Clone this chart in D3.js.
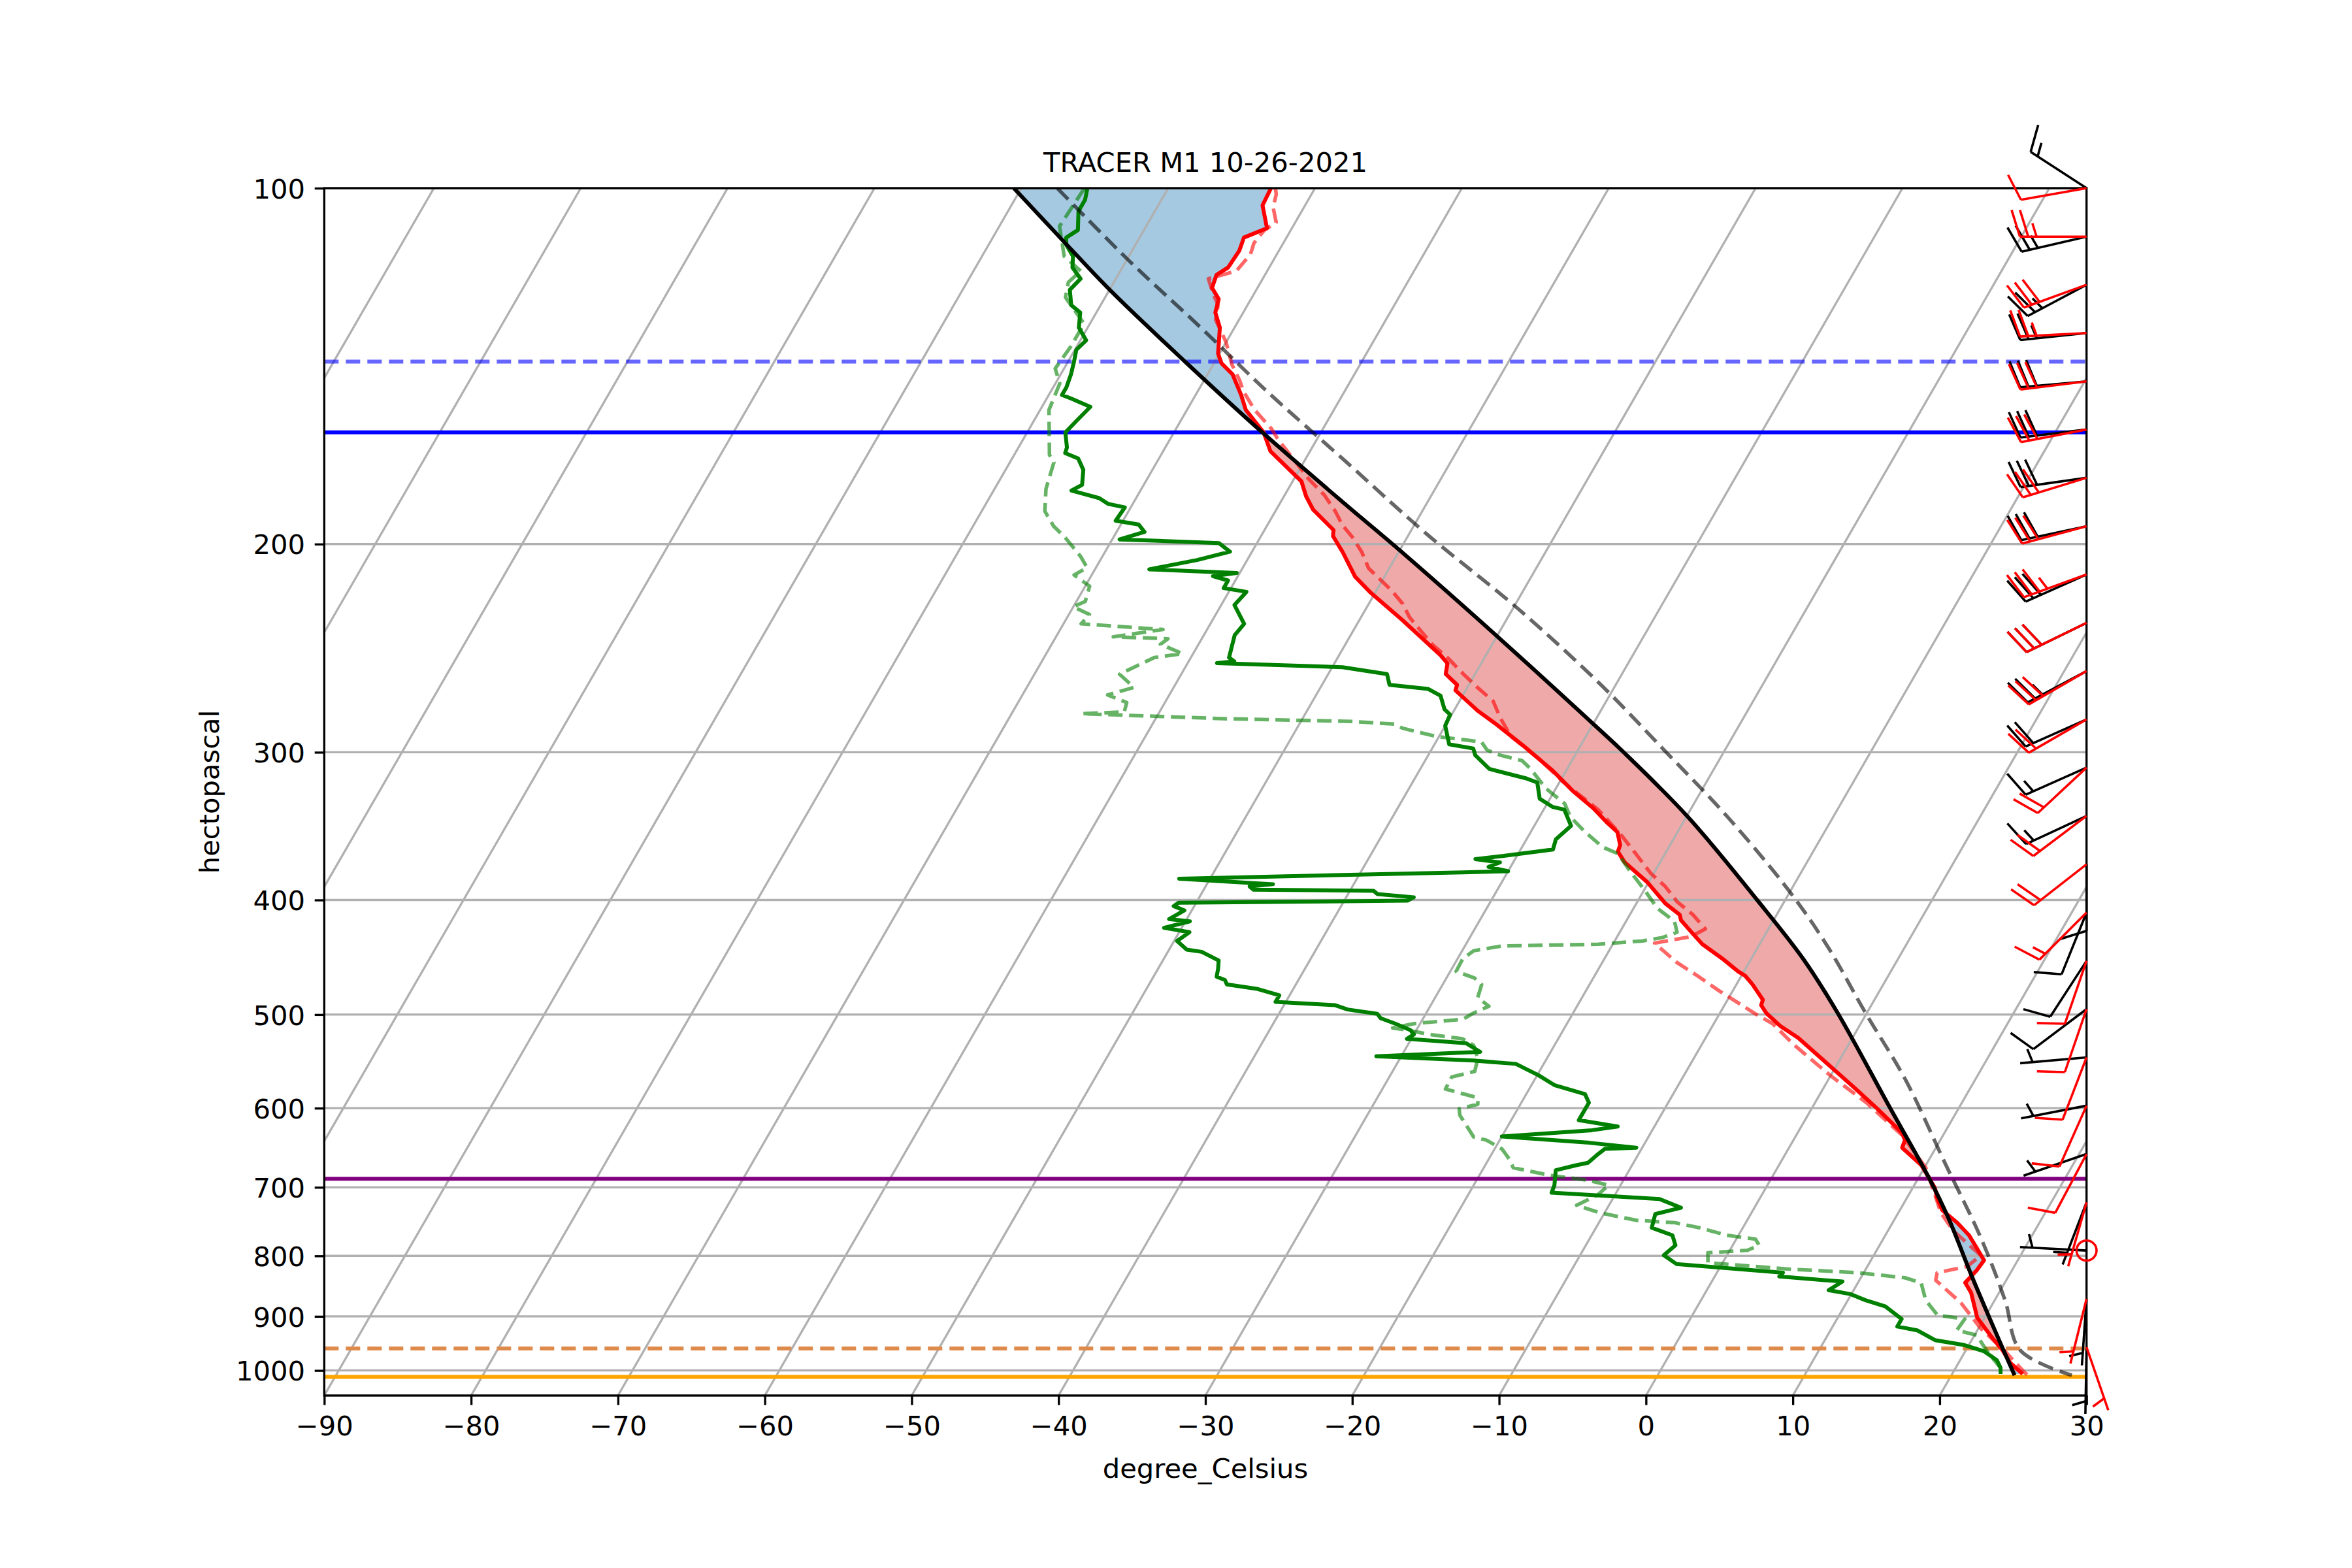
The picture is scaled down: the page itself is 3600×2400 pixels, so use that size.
<!DOCTYPE html>
<html><head><meta charset="utf-8">
<script src="https://cdn.jsdelivr.net/npm/d3@7"></script>
<style>html,body{margin:0;padding:0;background:#fff;} svg{display:block;}</style>
</head><body>
<svg id="chart" width="3600" height="2400"></svg>
<script>
// ---------------- DATA ----------------
const chartTitle = "TRACER M1 10-26-2021";
const xLabel = "degree_Celsius";
const yLabel = "hectopascal";
const pressureTicks = [100,200,300,400,500,600,700,800,900,1000];
const temperatureTicks = [-90,-80,-70,-60,-50,-40,-30,-20,-10,0,10,20,30];

// Sounding 1 temperature [hPa, degC]
const temperature = [[100,-73.0],[103.4,-72.9],[108.1,-71.7],[110.1,-72.9],[112.9,-72.7],[116.7,-72.8],[118.4,-73.3],[121.4,-73.1],[124.1,-72.2],[127.4,-71.9],[131.2,-71.0],[138.0,-70.1],[140.6,-69.5],[143.7,-68.3],[149.6,-66.9],[154.0,-66.0],[160.9,-63.9],[166.9,-62.7],[177.0,-59.4],[182.2,-58.5],[187.0,-57.5],[194.6,-55.3],[196.9,-55.1],[203.2,-53.8],[213.1,-52.0],[219.9,-50.3],[231.8,-47.1],[239.9,-45.1],[248.3,-43.1],[252.3,-42.3],[257.6,-42.0],[263.1,-40.8],[265.9,-40.7],[276.6,-38.4],[284.0,-36.6],[296.2,-33.9],[310.5,-31.0],[323.2,-28.8],[334.4,-26.7],[344.5,-25.1],[350.4,-24.1],[359.4,-23.4],[364.0,-23.3],[371.8,-22.4],[386.3,-20.1],[402.9,-18.0],[411.7,-16.6],[416.1,-16.3],[427.7,-14.9],[436.0,-13.9],[448.2,-12.0],[459.7,-10.4],[463.6,-9.75],[471.6,-8.9],[485.8,-7.6],[491.0,-7.5],[499.0,-6.8],[511.1,-5.4],[523.2,-3.7],[549.3,-0.8],[576.7,2.1],[600.9,4.5],[629.4,7.1],[638.6,7.6],[648.0,7.7],[670.5,9.7],[700.6,11.5],[714.4,12.05],[732.0,12.9],[750.0,14.4],[768.5,15.7],[787.4,16.7],[806.8,17.7],[822.6,17.6],[842.9,17.3],[859.5,18.1],[902.4,19.5],[938.2,21.3],[961.3,22.5],[985.0,23.5],[1006.8,24.8]];

// Sounding 1 dewpoint
const dewpoint = [[100,-85.5],[102.3,-85.2],[104.6,-85.2],[108.5,-84.5],[110.1,-85.0],[111.7,-84.7],[114.2,-83.8],[116.7,-83.4],[119.3,-82.4],[121.9,-82.7],[125.6,-82.0],[127.4,-81.1],[131.2,-80.6],[134.5,-79.6],[137.0,-79.9],[140.1,-79.6],[143.7,-79.3],[147.4,-79.1],[149.6,-79.1],[150.7,-78.3],[153.1,-76.7],[157.4,-77.1],[160.9,-77.4],[165.7,-76.7],[167.5,-76.6],[169.3,-75.5],[173.1,-74.7],[178.2,-74.2],[180.2,-74.7],[182.9,-72.5],[184.9,-71.7],[186.2,-70.4],[191.1,-70.5],[192.5,-68.8],[195.3,-68.1],[198.2,-69.5],[199.6,-62.6],[203.0,-61.5],[206.3,-63.4],[210.1,-66.3],[211.6,-60.2],[212.9,-61.7],[214.7,-60.5],[217.9,-60.5],[219.5,-58.8],[225.2,-59.1],[233.6,-57.7],[238.8,-57.9],[249.5,-57.4],[251.3,-56.9],[252.2,-58.0],[254.2,-49.3],[257.6,-46.0],[263.1,-45.4],[265.2,-42.6],[268.7,-41.5],[275.9,-40.7],[278.8,-40.1],[284.9,-40.0],[295.4,-39.0],[297.8,-37.2],[301.7,-36.8],[309.9,-35.3],[315.7,-32.4],[318.2,-31.5],[328.4,-30.7],[333.7,-29.5],[335.4,-28.6],[346.2,-27.5],[355.5,-28.0],[362.5,-27.8],[367.1,-30.9],[369.4,-32.7],[371.8,-30.9],[375.0,-31.5],[378.2,-30.0],[379.0,-33.0],[383.8,-52.1],[387.9,-45.5],[389.6,-47.0],[392.1,-46.6],[392.9,-38.4],[395.4,-38.0],[397.9,-35.4],[400.5,-35.7],[402.2,-51.2],[404.8,-51.4],[408.2,-50.5],[415.2,-51.2],[417.0,-49.7],[422.3,-51.2],[425.9,-49.3],[433.2,-49.8],[440.6,-48.8],[442.5,-47.7],[450.0,-46.2],[457.7,-45.9],[464.5,-45.7],[467.5,-45.0],[471.5,-44.7],[475.5,-42.5],[481.6,-40.7],[487.8,-40.7],[491.0,-36.5],[495.1,-35.5],[499.3,-33.3],[503.6,-32.9],[508.9,-31.7],[515.4,-30.4],[519.8,-30.0],[524.2,-30.3],[528.7,-26.1],[537.7,-24.8],[542.3,-31.7],[546.9,-24.9],[550.4,-21.9],[562.8,-19.9],[573.9,-18.4],[583.8,-16.0],[593.6,-15.4],[614.2,-15.4],[621.8,-12.5],[626.3,-14.1],[634.0,-20.0],[641.8,-13.8],[648.0,-10.4],[649.6,-12.5],[657.6,-12.8],[667.3,-13.1],[670.5,-13.8],[677.1,-15.0],[697.2,-14.5],[707.4,-14.4],[716.1,-6.8],[728.4,-5.0],[737.4,-6.5],[757.4,-6.2],[768.5,-4.5],[783.6,-3.9],[799.0,-4.3],[812.7,-3.1],[826.7,4.5],[832.8,4.4],[841.0,8.9],[855.3,8.3],[861.6,9.9],[872.1,11.2],[882.8,12.8],[904.6,14.4],[918.0,14.4],[924.8,15.9],[942.6,17.5],[951.8,19.7],[963.5,21.3],[980.1,22.5],[994.7,23.05],[1006.8,23.3]];

// Sounding 2 temperature (dashed)
const temperature2 = [[100,-72.7],[101.2,-72.4],[103.8,-72.1],[106.9,-71.3],[108.5,-71.8],[111.3,-72.0],[113.7,-71.8],[117.5,-72.1],[119.3,-73.7],[122.8,-72.8],[125.6,-72.0],[129.2,-71.6],[135.0,-70.0],[141.1,-68.7],[145.3,-67.6],[148.5,-66.9],[154.0,-65.4],[159.8,-63.5],[163.3,-62.6],[170.6,-60.5],[176.2,-59.0],[181.8,-57.3],[187.7,-55.9],[192.7,-54.9],[197.9,-53.6],[203.2,-52.5],[209.7,-51.4],[214.2,-50.2],[218.8,-49.0],[224.6,-47.7],[230.6,-46.7],[236.8,-45.4],[243.1,-44.1],[249.6,-42.5],[257.6,-40.8],[264.5,-39.3],[271.6,-37.7],[280.3,-36.6],[290.9,-35.1],[303.4,-32.4],[318.2,-29.7],[335.4,-26.3],[351.9,-23.8],[365.5,-22.0],[379.8,-20.2],[389.6,-18.7],[401.3,-17.3],[411.7,-15.7],[423.2,-14.3],[429.6,-15.0],[435.1,-17.2],[451.9,-14.9],[463.6,-13.0],[477.6,-10.9],[489.8,-9.0],[499.0,-7.6],[508.9,-6.0],[530.9,-3.65],[562.8,-0.05],[593.6,3.5],[632.4,7.2],[673.8,10.1],[735.6,12.9],[761.1,14.4],[787.4,16.4],[799.0,17.3],[816.6,16.8],[826.7,15.0],[838.9,15.2],[876.5,17.8],[920.4,20.1],[961.3,22.6],[1004.4,24.9],[1009.0,25.2]];

// Sounding 2 dewpoint (dashed)
const dewpoint2 = [[100,-85.7],[107.7,-85.9],[114.2,-84.4],[117.5,-82.7],[120.1,-83.1],[123.7,-82.7],[130.2,-80.4],[136.0,-80.4],[142.1,-80.6],[146.3,-79.7],[154.0,-79.4],[160.9,-78.5],[168.1,-77.6],[170.6,-77.0],[179.6,-76.5],[187.6,-75.7],[193.2,-74.5],[197.4,-73.3],[204.8,-71.5],[209.4,-70.6],[212.4,-71.2],[217.1,-69.7],[223.6,-69.4],[226.0,-70.0],[229.4,-68.6],[233.6,-68.8],[236.2,-63.0],[239.6,-66.1],[240.5,-62.3],[243.1,-62.6],[247.6,-60.7],[249.5,-62.5],[257.7,-64.2],[264.4,-62.7],[268.3,-64.2],[272.3,-62.6],[277.3,-62.4],[278.3,-65.2],[281.0,-55.4],[282.5,-46.6],[284.0,-43.5],[286.3,-42.8],[290.9,-40.2],[294.0,-36.9],[298.7,-36.2],[301.7,-35.1],[304.9,-33.4],[309.8,-32.5],[321.8,-30.7],[331.6,-28.8],[340.2,-27.9],[350.4,-26.3],[360.9,-24.5],[365.5,-23.2],[378.2,-21.7],[392.9,-19.9],[406.4,-18.4],[417.0,-16.7],[425.9,-16.1],[430.4,-16.9],[433.2,-18.1],[436.0,-21.0],[437.5,-27.5],[441.5,-29.2],[448.2,-29.65],[459.7,-29.6],[465.6,-28.1],[471.5,-27.35],[483.7,-27.1],[492.0,-26.0],[498.3,-26.75],[504.6,-27.25],[508.9,-30.4],[513.3,-31.7],[515.4,-30.6],[519.8,-28.9],[524.2,-26.5],[530.9,-25.5],[544.6,-24.7],[558.6,-24.4],[564.6,-25.75],[578.1,-25.7],[588.0,-23.15],[595.5,-22.9],[600.5,-24.0],[608.2,-23.7],[621.2,-22.8],[634.6,-21.9],[638.6,-20.9],[649.6,-19.5],[664.0,-18.5],[673.8,-18.0],[683.7,-15.25],[690.4,-12.4],[697.2,-10.8],[710.9,-11.2],[724.9,-12.2],[735.6,-10.3],[746.4,-7.55],[750.0,-4.8],[757.4,-2.95],[768.5,-0.8],[774.2,1.3],[783.6,1.8],[791.3,1.2],[795.1,-1.4],[810.7,-1.0],[820.6,4.6],[826.7,9.6],[834.8,13.0],[842.9,14.3],[872.1,15.3],[898.0,16.7],[904.6,18.7],[924.6,18.6],[933.6,20.15],[956.9,21.2],[975.7,22.1],[994.7,23.05],[1006.8,23.4]];

// Parcel profile (solid black) and second parcel profile (dashed grey)
const parcel = [[100,-90.51],[111.2,-84.89],[122.1,-79.89],[140.1,-72.07],[160.5,-64.14],[185.3,-55.44],[201.1,-50.4],[240.5,-39.7],[287.8,-29.2],[299.5,-26.9],[340.2,-19.9],[400.5,-11.85],[448.2,-6.5],[498.3,-2.0],[599.5,5.3],[687.0,10.7],[742.8,13.6],[834.8,17.6],[938.2,21.7],[1009.3,24.3]];
const parcel2 = [[100,-87.55],[115.0,-79.9],[131.2,-72.3],[148.5,-65.3],[170.3,-57.16],[195.8,-48.9],[227.0,-39.6],[263.1,-31.0],[299.5,-24.0],[340.2,-17.2],[394.6,-9.9],[438.8,-5.2],[498.3,-0.1],[568.3,5.3],[667.3,11.2],[772.3,16.6],[872.1,20.7],[961.3,23.7],[1009.3,28.2]];

// Horizontal reference levels [hPa]
const levelPressures = [140.2, 160.9, 688.5, 958.2, 1012.7];

// Wind barbs: pressure levels, direction (deg) and speed (kt)
const windPressure = [100,109.9,120.7,132.6,145.7,160.0,175.8,193.2,212.2,233.2,256.1,281.4,309.1,339.6,373.1,409.9,450.3,494.7,543.5,597.1,656.0,720.7,791.7,869.8,955.6];
const windDir1 = [303,257,242,264,265,263,262,258,246,244,242,246,246,245,180,202,213,233,265,259,251,201,273,184,181];
const windSpd1 = [15,25,25,25,30,30,30,30,30,30,25,20,15,15,10,10,10,10,5,5,5,5,5,5,5];
const windDir2 = [260,270,250,267,263,259,253,255,250,244,240,240,227,233,232,225,199,199,201,204,208,196,0,194,161];
const windSpd2 = [10,25,30,25,30,30,30,30,35,30,30,20,20,20,20,15,10,10,10,10,10,5,0,5,5];

// ---------------- LAYOUT / STYLE ----------------
const FONT = "DejaVu Sans";
const FS = 41.67;
const axL = 496.3, axR = 3193.7, axT = 288, axB = 2136;
const tanSkew = Math.tan(30 * Math.PI / 180);
const levelStyles = [
  {color:"#0000ff", opacity:0.6, dash:"22,11", width:6},
  {color:"#0000ff", opacity:1, dash:null, width:6},
  {color:"#800080", opacity:1, dash:null, width:6},
  {color:"#de8a4b", opacity:1, dash:"22,11", width:6},
  {color:"#ffa500", opacity:1, dash:null, width:6}
];

const svg = d3.select("#chart");
svg.append("rect").attr("width",3600).attr("height",2400).attr("fill","#fff");

const x = d3.scaleLinear().domain([-90,30]).range([axL,axR]);
const y = d3.scaleLog().domain([1050,100]).range([axB,axT]);
const sx = (T,p) => x(T) + (axB - y(p)) * tanSkew;

svg.append("defs").append("clipPath").attr("id","clip")
  .append("rect").attr("x",axL).attr("y",axT).attr("width",axR-axL).attr("height",axB-axT);
const plot = svg.append("g").attr("clip-path","url(#clip)");

// --- CAPE / CIN shading ---
function interpLog(data, p) {
  if (p <= data[0][0]) return data[0][1];
  const n = data.length;
  if (p >= data[n-1][0]) return data[n-1][1];
  let i = d3.bisector(d => d[0]).right(data, p) - 1;
  const a = data[i], b = data[i+1];
  const f = (Math.log(p) - Math.log(a[0])) / (Math.log(b[0]) - Math.log(a[0]));
  return a[1] + f * (b[1] - a[1]);
}
function shadeRegions(env, par) {
  const pmin = Math.max(env[0][0], par[0][0]);
  const pmax = Math.min(env[env.length-1][0], par[par.length-1][0]);
  const levels = Array.from(new Set(env.map(d=>d[0]).concat(par.map(d=>d[0]))))
    .filter(p => p >= pmin && p <= pmax).sort((a,b)=>a-b);
  const rows = levels.map(p => ({p, e: interpLog(env,p), q: interpLog(par,p)}));
  const pos = [], neg = [];
  let cur = [rows[0]];
  let sign = Math.sign(rows[0].q - rows[0].e);
  for (let i = 1; i < rows.length; i++) {
    const r = rows[i];
    const s = Math.sign(r.q - r.e);
    if (s !== 0 && sign !== 0 && s !== sign) {
      const a = rows[i-1];
      const da = a.q - a.e, db = r.q - r.e;
      const f = da / (da - db);
      const pc = Math.exp(Math.log(a.p) + f * (Math.log(r.p) - Math.log(a.p)));
      const tc = a.e + f * (r.e - a.e);
      const c = {p: pc, e: tc, q: tc};
      cur.push(c);
      (sign > 0 ? pos : neg).push(cur);
      cur = [c, r];
      sign = s;
    } else {
      cur.push(r);
      if (sign === 0) sign = s;
    }
  }
  (sign > 0 ? pos : neg).push(cur);
  return {pos, neg};
}
function regionPath(seg) {
  const pts = seg.map(r => [sx(r.q, r.p), y(r.p)])
    .concat(seg.slice().reverse().map(r => [sx(r.e, r.p), y(r.p)]));
  return d3.line()(pts) + "Z";
}
const regions = shadeRegions(temperature, parcel);
plot.selectAll("path.cape").data(regions.pos).enter().append("path")
  .attr("d", regionPath).attr("fill","#d62728").attr("fill-opacity",0.4).attr("stroke","none");
plot.selectAll("path.cin").data(regions.neg).enter().append("path")
  .attr("d", regionPath).attr("fill","#1f77b4").attr("fill-opacity",0.4).attr("stroke","none");

// --- grid ---
const grid = plot.append("g").attr("stroke","#b0b0b0").attr("stroke-width",3.33);
pressureTicks.forEach(p => {
  grid.append("line").attr("x1",axL).attr("x2",axR).attr("y1",y(p)).attr("y2",y(p));
});
d3.range(-130, 31, 10).forEach(T => {
  grid.append("line").attr("x1", sx(T,1050)).attr("y1", y(1050)).attr("x2", sx(T,100)).attr("y2", y(100));
});

// --- reference levels ---
levelPressures.forEach((p,i) => {
  const st = levelStyles[i];
  const l = plot.append("line").attr("x1",axL).attr("x2",axR).attr("y1",y(p)).attr("y2",y(p))
    .attr("stroke",st.color).attr("stroke-opacity",st.opacity).attr("stroke-width",st.width);
  if (st.dash) l.attr("stroke-dasharray", st.dash);
});

// --- profiles ---
const line = d3.line().x(d => sx(d[1], d[0])).y(d => y(d[0]));
const smooth = d3.line().x(d => sx(d[1], d[0])).y(d => y(d[0])).curve(d3.curveCatmullRom.alpha(0.5));
function drawProfile(data, gen, color, opacity, dash, width) {
  const pth = plot.append("path").attr("d", gen(data)).attr("fill","none")
    .attr("stroke",color).attr("stroke-opacity",opacity).attr("stroke-width",width)
    .attr("stroke-linejoin","round");
  if (dash) pth.attr("stroke-dasharray", dash);
}
drawProfile(temperature, line, "#ff0000", 1, null, 6);
drawProfile(dewpoint, line, "#008000", 1, null, 6);
drawProfile(temperature2, line, "#ff0000", 0.6, "22,10", 5.5);
drawProfile(dewpoint2, line, "#008000", 0.6, "22,10", 5.5);
drawProfile(parcel, smooth, "#000000", 1, null, 6);
drawProfile(parcel2, smooth, "#000000", 0.6, "24,11", 5.5);

// --- axes ---
svg.append("rect").attr("x",axL).attr("y",axT).attr("width",axR-axL).attr("height",axB-axT)
  .attr("fill","none").attr("stroke","#000").attr("stroke-width",3.33);

const xAxis = d3.axisBottom(x).tickValues(temperatureTicks).tickSize(14.6).tickPadding(14.6).tickSizeOuter(0);
const gx = svg.append("g").attr("transform",`translate(0,${axB})`).call(xAxis);
const yAxis = d3.axisLeft(y).tickValues(pressureTicks).tickFormat(d3.format("d")).tickSize(14.6).tickPadding(14.6).tickSizeOuter(0);
const gy = svg.append("g").attr("transform",`translate(${axL},0)`).call(yAxis);
[gx, gy].forEach(g => {
  g.select(".domain").remove();
  g.selectAll(".tick line").attr("stroke","#000").attr("stroke-width",3.33);
  g.selectAll(".tick text").attr("font-family",FONT).attr("font-size",FS).attr("fill","#000");
});
gx.selectAll(".tick text").attr("dy","0.76em");
gy.selectAll(".tick text").attr("dy","0.365em");

svg.append("text").attr("x",(axL+axR)/2).attr("y",263).attr("text-anchor","middle")
  .attr("font-family",FONT).attr("font-size",FS).text(chartTitle);
svg.append("text").attr("x",(axL+axR)/2).attr("y",2262).attr("text-anchor","middle")
  .attr("font-family",FONT).attr("font-size",FS).text(xLabel);
svg.append("text").attr("transform",`translate(334.5,${(axT+axB)/2}) rotate(-90)`).attr("text-anchor","middle")
  .attr("font-family",FONT).attr("font-size",FS).text(yLabel);

// --- wind barbs (matplotlib-style geometry) ---
const L = 102, spacing = 0.125*L, fullH = 0.4*L, fullW = 0.25*L, emptyR = 0.15*L;
const BW = 3.6;
function drawBarb(g, x0, y0, dir, spd, color) {
  const spd5 = Math.round(spd/5)*5;
  if (spd5 < 5) {
    g.append("circle").attr("cx",x0).attr("cy",y0).attr("r",emptyR)
      .attr("fill","none").attr("stroke",color).attr("stroke-width",BW);
    return;
  }
  const d = dir*Math.PI/180;
  const s = [Math.sin(d), -Math.cos(d)];
  const n = [Math.cos(d), Math.sin(d)];
  const pt = (a,b) => [x0 + a*s[0] + b*n[0], y0 + a*s[1] + b*n[1]];
  const nflags = Math.floor(spd5/50);
  const rem = spd5 - 50*nflags;
  const nbarbs = Math.floor(rem/10);
  const half = (rem - 10*nbarbs) >= 5;
  const segs = [[pt(0,0), pt(L,0)]];
  let offset = L;
  const flags = [];
  for (let i=0;i<nflags;i++) {
    if (offset !== L) offset += spacing/2;
    flags.push([pt(offset,0), pt(offset - fullW/2, fullH), pt(offset - fullW, 0)]);
    offset -= fullW + spacing;
  }
  for (let i=0;i<nbarbs;i++) {
    segs.push([pt(offset,0), pt(offset + fullW/2, fullH)]);
    offset -= spacing;
  }
  if (half) {
    if (offset === L) offset -= 1.5*spacing;
    segs.push([pt(offset,0), pt(offset + fullW/4, fullH/2)]);
  }
  segs.forEach(sg => g.append("path").attr("d", d3.line()(sg)).attr("fill","none")
    .attr("stroke",color).attr("stroke-width",BW).attr("stroke-linecap","butt").attr("stroke-linejoin","round"));
  flags.forEach(f => g.append("path").attr("d", d3.line()(f)+"Z").attr("fill",color)
    .attr("stroke",color).attr("stroke-width",BW));
}
const barbs1 = svg.append("g");
const barbs2 = svg.append("g");
windPressure.forEach((p,i) => drawBarb(barbs1, axR, y(p), windDir1[i], windSpd1[i], "#000000"));
windPressure.forEach((p,i) => drawBarb(barbs2, axR, y(p), windDir2[i], windSpd2[i], "#ff0000"));
</script>
</body></html>
